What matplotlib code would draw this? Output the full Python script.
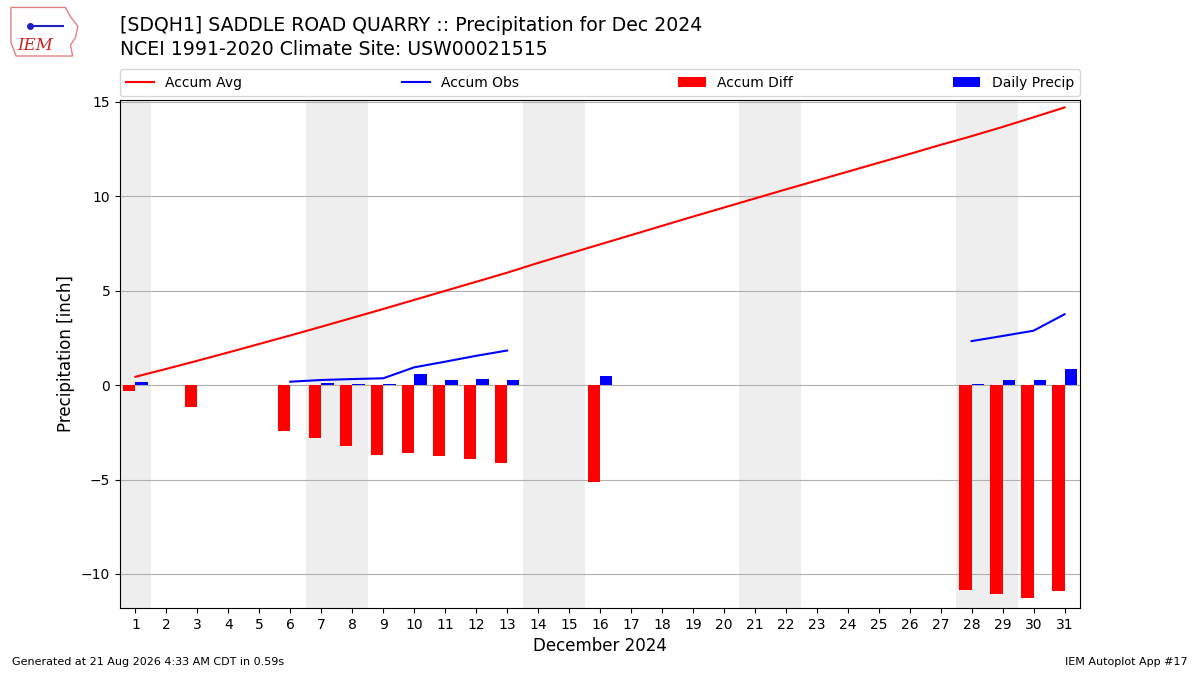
import matplotlib
matplotlib.use("Agg")
from matplotlib import pyplot as plt
from matplotlib.patches import Polygon
import numpy as np

# Days of December 2024
days = list(range(1, 32))

# Accumulated climate average (inch)
accum_avg = [0.44, 0.86, 1.29, 1.73, 2.18, 2.63, 3.09, 3.56, 4.03, 4.51,
             4.99, 5.47, 5.95, 6.47, 6.96, 7.45, 7.94, 8.43, 8.92, 9.40,
             9.88, 10.36, 10.83, 11.30, 11.77, 12.24, 12.72, 13.18, 13.67, 14.18,
             14.70]

# Accumulated observed precipitation (None = missing)
accum_obs = [None, None, None, None, None, 0.18, 0.27, 0.32, 0.36, 0.94,
             1.24, 1.55, 1.83, None, None, None, None, None, None, None,
             None, None, None, None, None, None, None, 2.33, 2.60, 2.88,
             3.75]

# Accumulated departure (obs - avg)
accum_diff = [-0.32, None, -1.17, None, None, -2.44, -2.81, -3.23, -3.71, -3.60,
              -3.76, -3.92, -4.13, None, None, -5.14, None, None, None, None,
              None, None, None, None, None, None, None, -10.86, -11.08, -11.29,
              -10.92]

# Daily precipitation
daily_precip = [0.16, None, None, None, None, None, 0.10, 0.05, 0.05, 0.60,
                0.27, 0.32, 0.27, None, None, 0.50, None, None, None, None,
                None, None, None, None, None, None, None, 0.05, 0.27, 0.27,
                0.85]

# Weekend days (shaded)
weekends = [1, 7, 8, 14, 15, 21, 22, 28, 29]


def to_arr(vals):
    return np.array([np.nan if v is None else v for v in vals], dtype=float)


fig = plt.figure(figsize=(12, 6.75), dpi=100)
ax = fig.add_axes([0.1, 0.0993, 0.8, 0.7527])

# Weekend shading
for d in weekends:
    ax.axvspan(d - 0.5, d + 0.5, color="#eeeeee", lw=0, zorder=0)

x = np.array(days)
ax.plot(x, to_arr(accum_avg), color="r", lw=1.5, label="Accum Avg", zorder=3)
ax.plot(x, to_arr(accum_obs), color="b", lw=1.5, label="Accum Obs", zorder=3)
ax.bar(x, to_arr(accum_diff), width=-0.4, align="edge", color="r",
       label="Accum Diff", zorder=2)
ax.bar(x, to_arr(daily_precip), width=0.4, align="edge", color="b",
       label="Daily Precip", zorder=2)

ax.set_xlim(0.5, 31.5)
ax.set_ylim(-11.8, 15.1)
ax.set_xticks(days)
ax.set_yticks([-10, -5, 0, 5, 10, 15])
ax.yaxis.grid(True, color="#b0b0b0", lw=0.8, zorder=1)
ax.set_axisbelow(True)
ax.set_xlabel("December 2024", fontsize=12)
ax.set_ylabel("Precipitation [inch]", fontsize=12)

ax.legend(loc="lower left", bbox_to_anchor=(0, 1.008, 1, 0.05), ncol=4,
          mode="expand", borderaxespad=0, fontsize=10, borderpad=0.45)

# Titles
fig.text(0.1, 0.962, "[SDQH1] SADDLE ROAD QUARRY :: Precipitation for Dec 2024",
         fontsize=13.6, va="center")
fig.text(0.1, 0.927, "NCEI 1991-2020 Climate Site: USW00021515",
         fontsize=13.6, va="center")

# Footer
fig.text(0.01, 0.015, "Generated at 21 Aug 2026 4:33 AM CDT in 0.59s",
         fontsize=8)
fig.text(0.99, 0.015, "IEM Autoplot App #17", fontsize=8, ha="right")

# Simple IEM logo
lax = fig.add_axes([0.006, 0.913, 0.062, 0.08])
lax.set_xlim(0, 1)
lax.set_ylim(0, 1)
lax.axis("off")
outline = [(0.05, 0.95), (0.78, 0.95), (0.85, 0.78), (0.95, 0.6),
           (0.92, 0.4), (0.85, 0.25), (0.88, 0.05), (0.12, 0.05),
           (0.05, 0.3)]
lax.add_patch(Polygon(outline, closed=True, fill=False, ec="#e08080", lw=1))
lax.text(0.38, 0.25, "IEM", color="#d02020", fontsize=12, family="serif",
         style="italic", ha="center", va="center")
lax.plot([0.3, 0.75], [0.6, 0.6], color="#2020c0", lw=1.5)
lax.plot([0.3], [0.6], "o", color="#2020c0", ms=4)

fig.savefig("out.png")
